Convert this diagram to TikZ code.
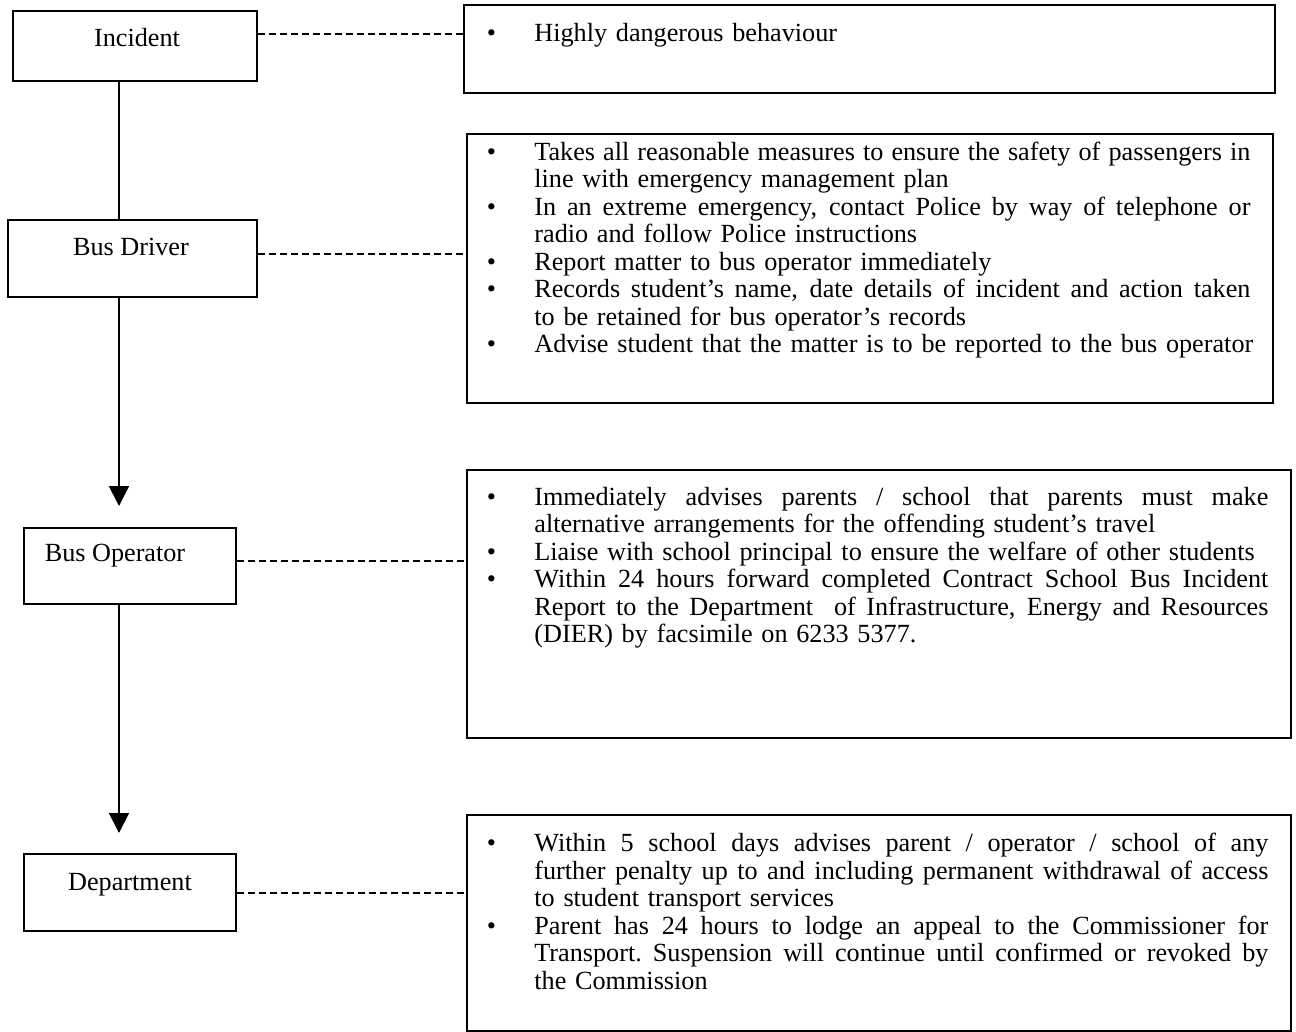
\documentclass[tikz,border=0pt]{standalone}
\usepackage{fontspec}
\setmainfont{Liberation Serif}
\usetikzlibrary{arrows.meta}
\newlength{\bind}
\setlength{\bind}{23.75pt}
\newlength{\tw}
% justified line (optional bullet)
\newcommand{\lineJ}[2]{\hbox to \tw{\hbox to \bind{#1\hfil}\hbox to \dimexpr\tw-\bind\relax{\spaceskip=0.25em plus 1em minus 0.1em\relax\xspaceskip=\spaceskip\strut #2}}}
% ragged (last) line (optional bullet)
\newcommand{\lineR}[2]{\hbox to \tw{\hbox to \bind{#1\hfil}\strut #2\hfil}}
\newcommand{\bul}{\textbullet}
\tikzset{
  lbox/.style={draw, line width=0.9pt, inner sep=0pt, anchor=north west},
  rbox/.style={draw, line width=0.9pt, inner sep=0pt, anchor=north west},
  lab/.style={anchor=base, inner sep=0pt, font=\fontsize{13.1}{13.75}\selectfont},
  txt/.style={anchor=north west, inner sep=0pt, font=\fontsize{13.1}{13.75}\selectfont},
  dashline/.style={line width=0.75pt, dash pattern=on 3.5pt off 2pt},
  vline/.style={line width=0.9pt},
  arr/.style={line width=0.9pt, -{Triangle[length=10pt,width=10pt]}}
}
\begin{document}
\begin{tikzpicture}[x=0.5pt,y=-0.5pt]
\useasboundingbox (0,0) rectangle (1296,1032);
% left boxes
\node[lbox, minimum width=122pt, minimum height=35pt] (inc) at (12,10) {};
\node[lbox, minimum width=124.5pt, minimum height=38.5pt] (drv) at (7,219) {};
\node[lbox, minimum width=106pt, minimum height=38pt] (op) at (23,527) {};
\node[lbox, minimum width=106pt, minimum height=38.5pt] (dep) at (23,853) {};
\node[lab] (incl) at (137,47) {Incident};
\node[lab] (drvl) at (131,256) {Bus Driver};
\node[lab] (opl) at (115,561) {Bus Operator};
\node[lab] (depl) at (130,890) {Department};
% right boxes
\node[rbox, minimum width=405.5pt, minimum height=44pt] (r1) at (463,4) {};
\node[rbox, minimum width=403pt, minimum height=134.5pt] (r2) at (466,133) {};
\node[rbox, minimum width=412pt, minimum height=134pt] (r3) at (466,469) {};
\node[rbox, minimum width=412pt, minimum height=108pt] (r4) at (466,814) {};
% texts
\node[txt, text width=390pt] (t1) at (486.5,21.75) {\tw=390pt\relax
\lineR{\bul}{Highly dangerous behaviour}};
\node[txt, text width=381.75pt] (t2) at (486.5,140.75) {\tw=381.75pt\relax
\lineJ{\bul}{Takes all reasonable measures to ensure the safety of passengers in}
\lineR{}{line with emergency management plan}
\lineJ{\bul}{In an extreme emergency, contact Police by way of telephone or}
\lineR{}{radio and follow Police instructions}
\lineR{\bul}{Report matter to bus operator immediately}
\lineJ{\bul}{Records student’s name, date details of incident and action taken}
\lineR{}{to be retained for bus operator’s records}
\lineR{\bul}{Advise student that the matter is to be reported to the bus operator}};
\node[txt, text width=390.75pt] (t3) at (486.5,485.75) {\tw=390.75pt\relax
\lineJ{\bul}{Immediately advises parents / school that parents must make}
\lineR{}{alternative arrangements for the offending student’s travel}
\lineR{\bul}{Liaise with school principal to ensure the welfare of other students}
\lineJ{\bul}{Within 24 hours forward completed Contract School Bus Incident}
\lineJ{}{Report to the Department\ \ of Infrastructure, Energy and Resources}
\lineR{}{(DIER) by facsimile on 6233 5377.}};
\node[txt, text width=390.75pt] (t4) at (486.5,832) {\tw=390.75pt\relax
\lineJ{\bul}{Within 5 school days advises parent / operator / school of any}
\lineJ{}{further penalty up to and including permanent withdrawal of access}
\lineR{}{to student transport services}
\lineJ{\bul}{Parent has 24 hours to lodge an appeal to the Commissioner for}
\lineJ{}{Transport. Suspension will continue until confirmed or revoked by}
\lineR{}{the Commission}};
% connectors
\coordinate (vx) at (119,0);
\coordinate (tip1) at (119,506);
\coordinate (tip2) at (119,833);
\draw[vline] (vx |- inc.south) -- (vx |- drv.north);
\draw[arr] (vx |- drv.south) -- (tip1);
\draw[arr] (vx |- op.south) -- (tip2);
\coordinate (d1) at (0,34);
\coordinate (d2) at (0,254);
\coordinate (d3) at (0,561);
\coordinate (d4) at (0,893);
\draw[dashline] (d1 -| inc.east) -- (d1 -| r1.west);
\draw[dashline] (d2 -| drv.east) -- (d2 -| r2.west);
\draw[dashline] (d3 -| op.east) -- (d3 -| r3.west);
\draw[dashline] (d4 -| dep.east) -- (d4 -| r4.west);
\end{tikzpicture}
\end{document}
